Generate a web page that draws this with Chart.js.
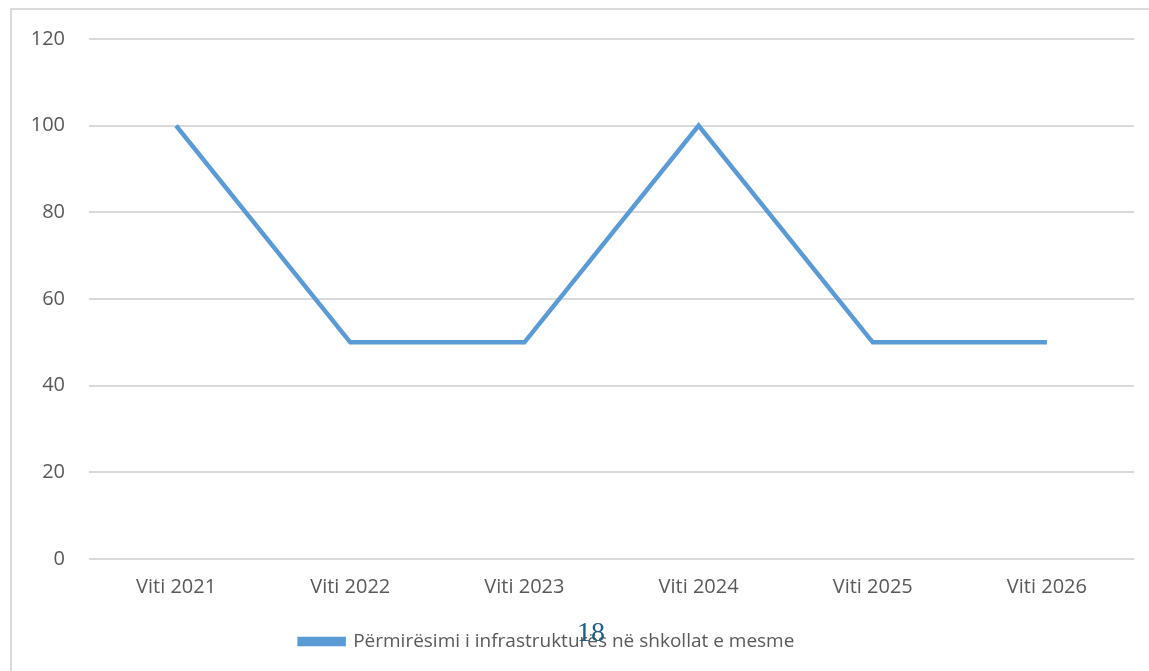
<!DOCTYPE html>
<html><head><meta charset="utf-8">
<script src="https://cdn.jsdelivr.net/npm/chart.js@4/dist/chart.umd.min.js"></script>
<style>
html,body{margin:0;padding:0;background:#fff;overflow:hidden;width:1149px;height:671px;}
#frame{position:absolute;left:10px;top:8px;width:1200px;height:700px;border-top:2px solid #d9d9d9;border-left:2px solid #d9d9d9;}
#wrap{position:absolute;left:-40px;top:0;width:1174px;height:671px;}
#pg{position:absolute;left:577px;top:618px;font-family:"Liberation Serif",serif;font-size:28px;color:#1f5f7f;line-height:1;}
</style></head><body>
<div id="frame"></div>
<div id="wrap"><canvas id="c" width="1174" height="671"></canvas></div>
<div id="pg">18</div>
<script>
const categories = ["Viti 2021","Viti 2022","Viti 2023","Viti 2024","Viti 2025","Viti 2026"];
const seriesName = "Përmirësimi i infrastrukturës në shkollat e mesme";
const values = [100, 50, 50, 100, 50, 50];
const yTicks = [0, 20, 40, 60, 80, 100, 120];

const font = {family: "'Open Sans', sans-serif", size: 20};
new Chart(document.getElementById('c'), {
  type: 'line',
  data: {labels: categories, datasets: [{label: seriesName, data: values, borderColor: '#5b9bd5', backgroundColor: '#5b9bd5', borderWidth: 4.5, pointRadius: 0, tension: 0, fill: false}]},
  options: {
    responsive: false, animation: false,
    layout: {padding: {top: 39, right: 0, bottom: 10, left: 0}},
    plugins: {
      legend: {position: 'bottom', labels: {color: '#595959', font: {family: "'Open Sans', sans-serif", size: 19}, boxWidth: 44, boxHeight: 5, padding: 8}},
      tooltip: {enabled: false}
    },
    scales: {
      x: {offset: true, grid: {display: false}, border: {display: false},
          afterFit: s => { s.height = s.height + 17; },
          ticks: {color: '#595959', font: font, padding: 8, maxRotation: 0}},
      y: {min: 0, max: 120, afterBuildTicks: s => { s.ticks = yTicks.map(v => ({value: v})); },
          afterFit: s => { s.width = 129; },
          grid: {color: '#d9d9d9', lineWidth: 2, drawTicks: false}, border: {display: false},
          ticks: {color: '#595959', font: font, padding: 24}}
    }
  }
});
</script>
</body></html>
